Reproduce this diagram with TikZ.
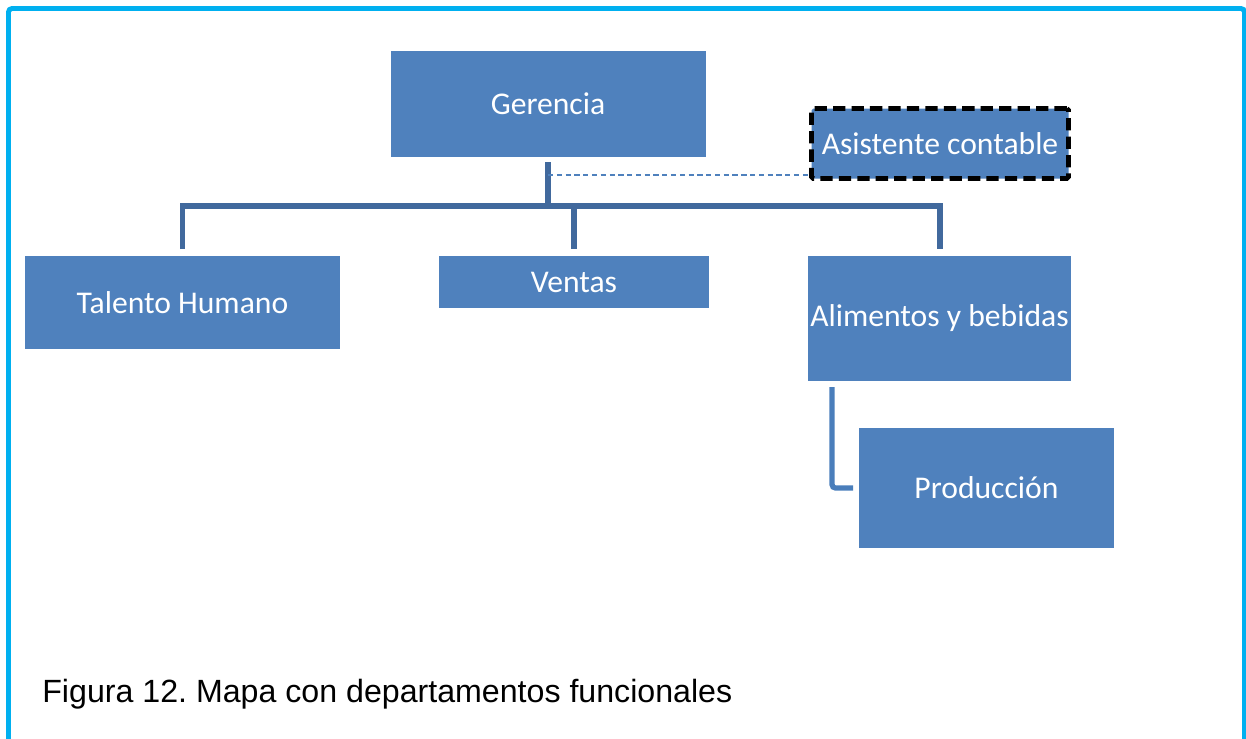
\documentclass[tikz,border=0pt]{standalone}
\usepackage{fontspec}
\setmainfont{Carlito}
\newfontfamily\capfont{Liberation Sans}
\definecolor{boxblue}{HTML}{4F81BD}
\definecolor{linkblue}{HTML}{41699D}
\definecolor{sublink}{HTML}{4A7EBB}
\definecolor{framecyan}{HTML}{00B0F0}
\def\px{0.02cm}
\tikzstyle{dept}=[fill=boxblue,text=white,inner sep=0pt,font=\fontsize{18}{21}\selectfont]
\tikzstyle{asist}=[dept,draw=black,line width=2.8pt,dash pattern=on 7pt off 3.5pt,rounded corners=1pt]
\tikzstyle{conn}=[draw=linkblue,line width=3.4pt]
\tikzstyle{subconn}=[draw=sublink,line width=3pt,rounded corners=2pt]
\tikzstyle{dline}=[draw=boxblue,line width=0.8pt,dash pattern=on 3pt off 2pt]

\begin{document}
\frenchspacing
\begin{tikzpicture}[x=\px,y=-\px]
\useasboundingbox (0,0) rectangle (1246,738);
\draw[framecyan,line width=2.8pt,rounded corners=2pt] (8.5,745) -- (8.5,8.5) -- (1244.5,8.5) -- (1244.5,745);

\node[dept,minimum width=315*\px,minimum height=106*\px] (ger) at (548,104) {Gerencia};
\node[asist,minimum width=257*\px,minimum height=70*\px] (asi) at (940,143.5) {Asistente contable};
\node[dept,minimum width=315*\px,minimum height=93*\px] (th) at (182.5,302.5) {Talento Humano};
\node[dept,minimum width=270*\px,minimum height=52*\px] (ven) at (574,282) {Ventas};
\node[dept,minimum width=263*\px,minimum height=125*\px] (ab) at (939.5,318.5) {Alimentos y bebidas};
\node[dept,minimum width=255*\px,minimum height=120*\px] (pro) at (986.5,488) {Producción};
\node[anchor=base west,inner sep=0pt,font=\capfont\fontsize{18.3}{21}\selectfont] (cap) at (42,702) {Figura 12. Mapa con departamentos funcionales};

% links
\draw[conn] (ger.south |- 0,162) -- (ger.south |- 0,206);
\draw[conn] (th.north |- 0,249) -- (th.north |- 0,206) -- (ab.north |- 0,206) -- (ab.north |- 0,249);
\draw[conn] (ven.north |- 0,206) -- (ven.north |- 0,249);
\draw[dline] (ger.south |- 0,175) -- (asi.west |- 0,175);
\draw[subconn] (832,0 |- 0,387) |- (853,0 |- pro.west);
\end{tikzpicture}
\end{document}
